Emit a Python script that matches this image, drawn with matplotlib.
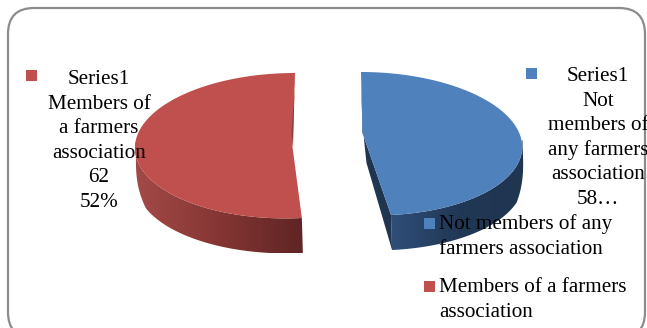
import numpy as np
import matplotlib
matplotlib.use("Agg")
import matplotlib.pyplot as plt
from matplotlib.colors import LinearSegmentedColormap
from matplotlib.patches import FancyBboxPatch, Polygon, Rectangle

plt.rcParams["font.family"] = ["Liberation Serif", "DejaVu Serif"]

# Chart data
categories = ["Not members of any farmers association", "Members of a farmers association"]
values = [58, 62]
series_name = "Series1"
legend_lines = [["Not members of any", "farmers association"], ["Members of a farmers", "association"]]
label_wraps = [["Not", "members of", "any farmers", "association"], ["Members of", "a farmers", "association"]]

BLUE = "#4F81BD"
RED = "#C0504D"
DEPTH = 35
FONT = 15.2


def rim(theta, cx, cy, rx, ry, skew):
    # Slanted ellipse, fakes the perspective of the exploded 3D pie
    x = cx + rx * np.sin(theta) + skew * (1 - np.cos(theta)) / 2
    y = cy - ry * np.cos(theta)
    return x, y


def draw_side(ax, x, y, colours):
    # Wall below the rim, x and y run from the near corner to the far end where it tapers off.
    # The shape clips a horizontal gradient image.
    n = len(x)
    far = np.clip(np.arange(n)[::-1] / (0.25 * n), 0, 1)
    drop = DEPTH * np.sqrt(far)
    outline = np.vstack([np.column_stack([x, y]), np.column_stack([x + 1, y + drop])[::-1]])
    clip = Polygon(outline, closed=True, facecolor="none", edgecolor="none", transform=ax.transData)
    ax.add_patch(clip)
    cmap = LinearSegmentedColormap.from_list("wall", colours)
    left, right = outline[:, 0].min(), outline[:, 0].max()
    img = ax.imshow(np.linspace(0, 1, 256)[None, :], cmap=cmap, aspect="auto", zorder=2,
                    extent=(left, right, outline[:, 1].max(), outline[:, 1].min()))
    img.set_clip_path(clip)


def draw_label(ax, x, y, lines, step=24.6):
    for i, line in enumerate(lines):
        ax.text(x, y + i * step, line, ha="center", va="center", fontsize=FONT, color="black", zorder=6)


fig = plt.figure(figsize=(6.47, 3.28), dpi=100)
ax = fig.add_axes([0, 0, 1, 1])

# Rounded chart frame, runs off the bottom and right edges
ax.add_patch(FancyBboxPatch((8, 8), 637, 330, boxstyle="round,pad=0,rounding_size=26",
                            facecolor="white", edgecolor="#8C8C8C", linewidth=1.6, zorder=0))

total = sum(values)
split = 2 * np.pi * values[0] / total

# Blue slice, clockwise from 12 o'clock
theta = np.linspace(0, split, 200)
bx, by = rim(theta, 361, 143.7, 154, 71.7, 14)
apex = (362.5, 133)
wall = theta >= np.pi / 2 - 0.05
draw_side(ax, bx[wall][::-1], by[wall][::-1], ["#2F4E78", "#213856", "#1F3550"])
ax.add_patch(Polygon([(bx[0], by[0]), apex, (bx[-1], by[-1]), (bx[-1] + 1, by[-1] + DEPTH),
                      (apex[0] + 4, apex[1] + 30), (apex[0] + 0.5, apex[1] - 3)],
                     closed=True, facecolor="#1F3550", edgecolor="none", zorder=3))
ax.add_patch(Polygon(np.vstack([np.column_stack([bx, by]), apex]), closed=True,
                     facecolor=BLUE, edgecolor="none", zorder=4))

# Red slice takes the rest of the circle
theta = np.linspace(split, 2 * np.pi, 200)
rx, ry = rim(theta, 295, 145.7, 155.3, 72.7, -9.4)
apex = (292.5, 147)
wall = theta <= 3 * np.pi / 2 + 0.05
draw_side(ax, rx[wall], ry[wall], ["#A34A47", "#853634", "#5F2524"])
ax.add_patch(Polygon(np.vstack([np.column_stack([rx, ry]), apex]), closed=True,
                     facecolor=RED, edgecolor="none", zorder=4))
# Sliver of the cut face along the slice's straight edge
ax.add_patch(Polygon([(rx[-1], ry[-1]), (apex[0] + 0.5, apex[1]), (apex[0] - 1, apex[1] - 15), (rx[-1], ry[-1] + 10)],
                     closed=True, facecolor="#8E3B38", edgecolor="none", zorder=5))

# Data labels
pct = [round(100 * v / total) for v in values]
blue_lines = [series_name] + label_wraps[0] + [f"{values[0]}…"]
red_lines = [series_name] + label_wraps[1] + [str(values[1]), f"{pct[1]}%"]
draw_label(ax, 598, 76.5, blue_lines)
draw_label(ax, 99, 79.5, red_lines)
ax.add_patch(Rectangle((526, 68), 11, 11, facecolor=BLUE, edgecolor="none", zorder=6))
ax.add_patch(Rectangle((26, 70), 11, 11, facecolor=RED, edgecolor="none", zorder=6))

# Legend
for (lines, colour, top) in zip(legend_lines, [BLUE, RED], [218, 281]):
    ax.add_patch(Rectangle((424, top), 11, 10.5, facecolor=colour, edgecolor="none", zorder=6))
    for i, line in enumerate(lines):
        ax.text(439, top + 6.5 + i * 25, line, ha="left", va="center", fontsize=FONT, color="black", zorder=6)

ax.set_xlim(0, 647)
ax.set_ylim(328, 0)
ax.axis("off")

fig.savefig("out.png", dpi=100)
